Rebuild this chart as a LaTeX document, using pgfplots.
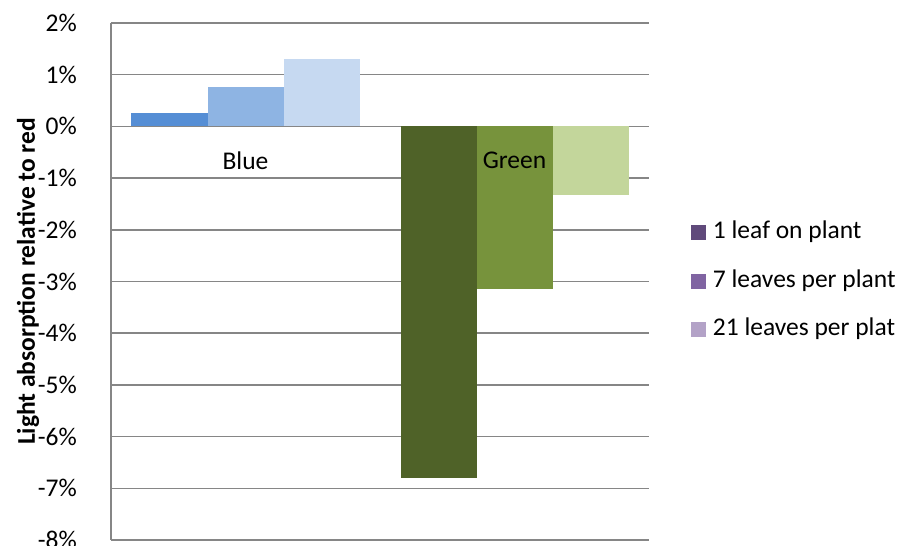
\documentclass[border=0pt]{standalone}
\usepackage{pgfplots}
\pgfplotsset{compat=1.18}
\usepackage{fontspec}
\setmainfont{Carlito}
\definecolor{gridgray}{HTML}{868686}
\definecolor{b1}{HTML}{558ED5}
\definecolor{b2}{HTML}{8EB4E3}
\definecolor{b3}{HTML}{C6D9F1}
\definecolor{g1}{HTML}{4F6228}
\definecolor{g2}{HTML}{77933C}
\definecolor{g3}{HTML}{C3D69B}
\definecolor{p1}{HTML}{604A7B}
\definecolor{p2}{HTML}{8064A2}
\definecolor{p3}{HTML}{B3A2C7}
\pgfplotsset{
  layers/mylayers/.define layer set={
    axis background,axis grid,axis ticks,axis lines,pre main,main,axis tick labels,axis descriptions,axis foreground
  }{/pgfplots/layers/standard},
}
\begin{document}
\fontsize{25.5}{30}\selectfont
\begin{tikzpicture}
\begin{axis}[
  set layers=mylayers,
  name=ax,
  scale only axis,
  width=538pt, height=517pt,
  ybar,
  bar width=76pt,
  xmin=-0.5, xmax=1.5,
  ymin=-8, ymax=2,
  ytick={-8,-7,...,2},
  xtick={0,1},
  xticklabels={Blue,Green},
  axis y line=left,
  axis x line*=middle,
  hide obscured x ticks=false,
  hide obscured y ticks=false,
  major tick length=0pt,
  ymajorgrids,
  grid style={gridgray, line width=1.5pt},
  axis line style={gridgray, line width=1.5pt, -},
  /pgf/number format/assume math mode=true,
  yticklabel={\pgfmathprintnumber{\tick}\%},
  yticklabel style={inner sep=0pt, anchor=east, xshift=-34pt},
  xticklabel style={inner sep=0pt, anchor=north, yshift=-25pt},
  ylabel={\bfseries Light absorption relative to red},
  ylabel style={at={(axis description cs:-0.154,0.5)}, anchor=center},
  legend style={draw=none, fill=none, at={(axis description cs:1.072,0.5)}, anchor=west,
    nodes={inner sep=0pt, text height=18pt, text depth=6pt, anchor=west},
    row sep=24.5pt, column sep=7pt},
  legend image code/.code={\fill[#1] (0pt,-7.5pt) rectangle (15pt,7.5pt);},
  legend cell align=left,
]
\addplot[fill=b1, draw=none, bar shift=-76pt, forget plot] coordinates {(0,0.25)};
\addplot[fill=b2, draw=none, bar shift=0pt, forget plot] coordinates {(0,0.77)};
\addplot[fill=b3, draw=none, bar shift=76pt, forget plot] coordinates {(0,1.30)};
\addplot[fill=g1, draw=none, bar shift=-76pt, forget plot] coordinates {(1,-6.81)};
\addplot[fill=g2, draw=none, bar shift=0pt, forget plot] coordinates {(1,-3.15)};
\addplot[fill=g3, draw=none, bar shift=76pt, forget plot] coordinates {(1,-1.33)};
\addlegendimage{fill=p1, draw=none}
\addlegendentry{1 leaf on plant}
\addlegendimage{fill=p2, draw=none}
\addlegendentry{7 leaves per plant}
\addlegendimage{fill=p3, draw=none}
\addlegendentry{21 leaves per plat}
\end{axis}
\pgfresetboundingbox
\path[use as bounding box] ([shift={(-111pt,-6pt)}]ax.south west) rectangle ([shift={(256pt,23pt)}]ax.north east);
\end{tikzpicture}
\end{document}
